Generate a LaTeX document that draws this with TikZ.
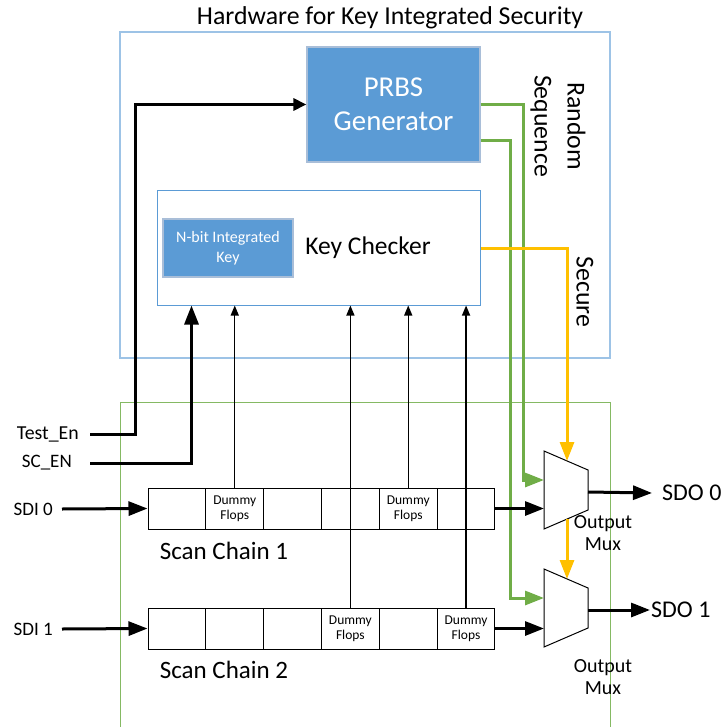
\documentclass[tikz,border=0pt]{standalone}
\usepackage{fontspec}
\setmainfont{Carlito}
\usetikzlibrary{arrows.meta}
\definecolor{msblue}{HTML}{5B9BD5}
\definecolor{lightblue}{HTML}{9DC3E6}
\definecolor{boxedge}{HTML}{A9BED8}
\definecolor{msgreen}{HTML}{70AD47}
\definecolor{msyellow}{HTML}{FFC000}

\begin{document}
\begin{tikzpicture}[
x=1pt, y=-1pt,
>={Triangle[length=19pt,width=14pt]},
bus/.style={draw, line width=3pt},
wire/.style={draw, line width=1.3pt, >={Triangle[length=10pt,width=8pt]}},
rnd/.style={draw=msgreen, line width=3pt},
sec/.style={draw=msyellow, line width=3pt},
block/.style={draw=boxedge, line width=1.2pt, fill=msblue, text=white, align=center},
chk/.style={draw=msblue, line width=1pt, fill=white, minimum width=323pt, minimum height=114pt},
cell/.style={draw, line width=1pt, minimum width=57.83pt, minimum height=41pt, inner sep=0pt},
flop/.style={font=\fontsize{13.5}{15}\selectfont, align=center, inner sep=0pt},
mux/.style={draw, line width=1pt, fill=white},
sig/.style={font=\fontsize{19}{22}\selectfont, inner ysep=0pt},
big/.style={font=\fontsize{25.8}{33}\selectfont}
]
\useasboundingbox (0,0) rectangle (726,727);
\clip (0,0) rectangle (726,727);

%frames
\node[big] (title) at (390,18) {Hardware for Key Integrated Security};
\node[draw=lightblue, line width=1.2pt, minimum width=490pt, minimum height=326pt] (hw) at (365,195) {};
\node[draw=msgreen!85, line width=1pt, minimum width=490pt, minimum height=340pt] (dft) at (365,572) {};

%security blocks
\node[block, minimum width=173pt, minimum height=115pt, font=\fontsize{28.8}{34}\selectfont] (prbs) at (393.5,104.5) {PRBS\\Generator};
\node[chk] (kc) at (318.5,248) {};
\node[block, minimum width=130pt, minimum height=58pt, font=\fontsize{16}{19.5}\selectfont] (key) at (228,248) {N-bit Integrated\\Key};
\node[font=\fontsize{25.5}{30}\selectfont] (kclabel) at (368,248) {Key Checker};
\node[big, rotate=-90, align=center] (rs) at (558,126) {Random\\Sequence};
\node[big, rotate=-90] (secure) at (585,292) {Secure};

%scan chains
\foreach \c/\y in {1/508.5,2/628.5}
  \foreach \i in {1,...,6}
    \node[cell] (c\c\i) at ({148+57.83*(\i-0.5)},\y) {};
\node[flop] (df1) at (c12) {Dummy\\Flops};
\node[flop] (df2) at (c15) {Dummy\\Flops};
\node[flop] (df3) at (c24) {Dummy\\Flops};
\node[flop] (df4) at (c26) {Dummy\\Flops};
\node[font=\fontsize{25}{30}\selectfont] (sc1) at (224,551) {Scan Chain 1};
\node[font=\fontsize{25}{30}\selectfont] (sc2) at (224,670) {Scan Chain 2};

%inputs
\node[sig, anchor=east, inner xsep=11pt, font=\fontsize{19.8}{22}\selectfont] (ten) at (90,434) {Test\_En};
\node[sig, anchor=east, inner xsep=18pt] (scen) at (90,463) {SC\_EN};
\node[sig, anchor=east, inner xsep=9pt] (sdi0) at (62,509) {SDI 0};
\node[sig, anchor=east, inner xsep=9pt] (sdi1) at (62,629) {SDI 1};

%outputs
\node[font=\fontsize{24}{28}\selectfont, anchor=west, inner xsep=10pt, inner ysep=0pt] (sdo0) at (652,493) {SDO 0};
\node[font=\fontsize{24}{28}\selectfont, anchor=west, inner xsep=1pt, inner ysep=0pt] (sdo1) at (650,610) {SDO 1};
\node[sig, align=center, font=\fontsize{20}{22}\selectfont] (om1) at (603,533) {Output\\Mux};
\node[sig, align=center, font=\fontsize{20}{22}\selectfont] (om2) at (603,677) {Output\\Mux};

%output muxes
\foreach \n/\t in {1/451,2/569}{
  \draw[mux] (544,\t) -- ++(44,19) -- ++(0,40) -- ++(-44,19) -- cycle;
  \coordinate (g\n) at (544,\t+29);
  \coordinate (d\n) at (544,\t+58);
  \coordinate (s\n) at (567,\t+10);
  \coordinate (b\n) at (567,\t+68);
  \coordinate (o\n) at (588,\t+41);
}

%control lines
\path[bus,->,>={Triangle[length=13pt,width=12pt]}] (ten.east) -- ++(45,0) |- (prbs.west);
\path[bus,->] (scen.east) -| ([xshift=35pt]kc.south west);
\path[wire,->] (c12.north) -- (c12.north |- kc.south);
\path[wire,->] (c15.north) -- (c15.north |- kc.south);
\path[wire,->] (c24.north) -- (c24.north |- kc.south);
\path[wire,->] (c26.north) -- (c26.north |- kc.south);

%random sequence
\path[rnd,->] (prbs.east) -- ++(43,0) |- (g1);
\path[rnd,->] ([yshift=-36pt]prbs.east) -- ++(30,0) |- (g2);

%secure
\path[sec,->] (kc.east) -| (s1);
\path[sec,->] (b1) -- (s2);

%data
\path[bus,->] (sdi0.east) -- (c11.west);
\path[bus,->] (sdi1.east) -- (c21.west);
\path[bus,->] (c16.east) -- (c16.east -| d1);
\path[bus,->] (c26.east) -- (c26.east -| d2);
\path[bus,->] (o1) -- (sdo0.west);
\path[bus,->] (o2) -- (sdo1.west);

\end{tikzpicture}
\end{document}
